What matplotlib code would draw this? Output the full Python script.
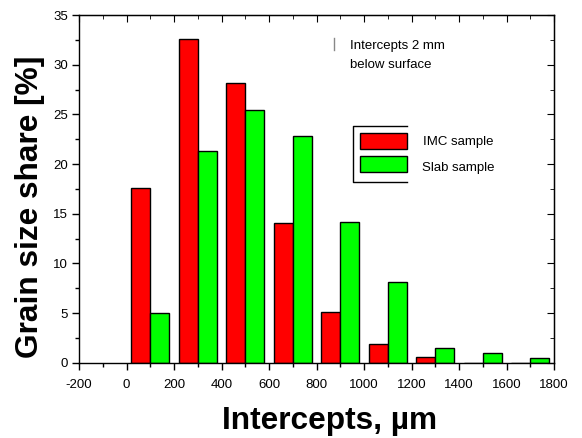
import matplotlib
matplotlib.use("Agg")
import matplotlib.pyplot as plt
from matplotlib.patches import Rectangle
from matplotlib.lines import Line2D
from matplotlib.ticker import MultipleLocator

plt.rcParams['font.family'] = ['Liberation Sans', 'DejaVu Sans']
plt.rcParams['axes.unicode_minus'] = False

bins = [0, 200, 400, 600, 800, 1000, 1200, 1400, 1600]
imc = [17.55, 32.6, 28.16, 14.1, 5.07, 1.88, 0.6, 0, 0]
slab = [5.03, 21.28, 25.4, 22.82, 14.2, 8.09, 1.45, 0.98, 0.44]
x_ticks = [-200, 0, 200, 400, 600, 800, 1000, 1200, 1400, 1600, 1800]
y_ticks = [0, 5, 10, 15, 20, 25, 30, 35]

W, H = 582, 438
fig = plt.figure(figsize=(W / 100, H / 100), dpi=100)
ax = fig.add_axes([79 / W, 1 - 362.7 / H, (554 - 79) / W, (362.7 - 15) / H])

w = 80
ax.bar([b + 20 for b in bins], imc, width=w, align='edge', color='#ff0000',
       edgecolor='black', linewidth=1.0)
ax.bar([b + 100 for b in bins], slab, width=w, align='edge', color='#00ff00',
       edgecolor='black', linewidth=1.0)

ax.set_xlim(-200, 1800)
ax.set_ylim(0, 35)
ax.set_xticks(x_ticks)
ax.set_yticks(y_ticks)
ax.xaxis.set_minor_locator(MultipleLocator(100))
ax.yaxis.set_minor_locator(MultipleLocator(2.5))
ax.tick_params(which='both', direction='out', top=False, right=False,
               labelsize=9.5, width=1)
ax.tick_params(which='major', length=5)
ax.tick_params(which='minor', length=3)
ax.tick_params(axis='x', which='major', pad=7)
ax.tick_params(axis='y', which='major', pad=3)
for s in ax.spines.values():
    s.set_linewidth(1.0)

# inward ticks on the top and right edges
sec_x = ax.secondary_xaxis('top')
sec_x.set_xticks(x_ticks)
sec_x.xaxis.set_minor_locator(MultipleLocator(100))
sec_x.tick_params(which='both', direction='in', labeltop=False)
sec_x.tick_params(which='major', length=5)
sec_x.tick_params(which='minor', length=3)
sec_y = ax.secondary_yaxis('right')
sec_y.set_yticks(y_ticks)
sec_y.yaxis.set_minor_locator(MultipleLocator(2.5))
sec_y.tick_params(which='both', direction='in', labelright=False)
sec_y.tick_params(which='major', length=5)
sec_y.tick_params(which='minor', length=3)


def fx(px):
    return px / W


def fy(py):
    return 1 - py / H


# axis titles
fig.text(fx(330), fy(429), 'Intercepts, µm', fontsize=22.8, fontweight='bold',
         ha='center', va='baseline')
fig.text(fx(30), fy(207), 'Grain size share [%]', fontsize=22.8, fontweight='bold',
         ha='center', va='center', rotation=90)

# annotation
fig.text(fx(350), fy(46), 'Intercepts 2 mm', fontsize=9.5, va='center', ha='left')
fig.text(fx(350), fy(65), 'below surface', fontsize=9.5, va='center', ha='left')
fig.add_artist(Line2D([fx(334), fx(334)], [fy(38), fy(50)], color='#888888', lw=1))

# legend (open box, as in the reference)
lx0, lx1, ly0, ly1 = 353, 407, 126, 182
fig.add_artist(Line2D([fx(lx1), fx(lx0), fx(lx0), fx(lx1)],
                      [fy(ly0), fy(ly0), fy(ly1), fy(ly1)], color='black', lw=1))
fig.add_artist(Rectangle((fx(360), fy(149)), fx(407) - fx(360), fy(133) - fy(149),
                         facecolor='#ff0000', edgecolor='black', lw=1,
                         transform=fig.transFigure))
fig.add_artist(Rectangle((fx(360), fy(172)), fx(407) - fx(360), fy(156) - fy(172),
                         facecolor='#00ff00', edgecolor='black', lw=1,
                         transform=fig.transFigure))
fig.text(fx(423), fy(142), 'IMC sample', fontsize=9.5, va='center', ha='left')
fig.text(fx(422), fy(168), 'Slab sample', fontsize=9.5, va='center', ha='left')

fig.savefig('out.png', dpi=100)
